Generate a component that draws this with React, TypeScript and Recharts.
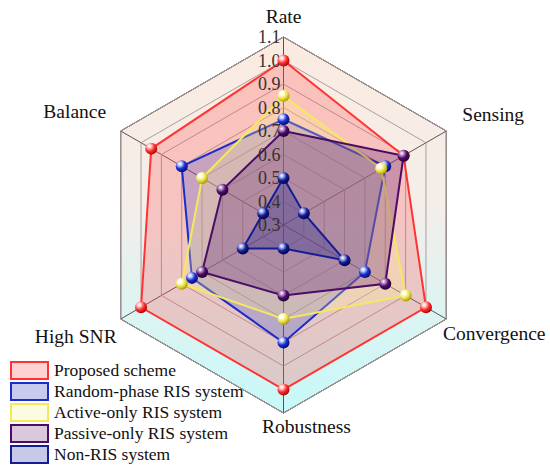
import React from "react";
import {
  RadarChart,
  Radar,
  PolarGrid,
  PolarAngleAxis,
  PolarRadiusAxis,
} from "recharts";

const metrics = ["Rate", "Sensing", "Convergence", "Robustness", "High SNR", "Balance"];
const proposed = [1.0, 0.89, 1.0, 1.0, 1.0, 0.95];
const randomPhase = [0.75, 0.8, 0.7, 0.8, 0.75, 0.8];
const activeOnly = [0.85, 0.78, 0.9, 0.7, 0.8, 0.7];
const passiveOnly = [0.7, 0.89, 0.8, 0.6, 0.7, 0.6];
const nonRis = [0.5, 0.4, 0.6, 0.4, 0.5, 0.4];
const radiusTicks = [0.3, 0.4, 0.5, 0.6, 0.7, 0.8, 0.9, 1.0, 1.1];

const CX = 283.5;
const CY = 225;
const OUTER_R = 188;
const FONT = "'Liberation Serif', 'Times New Roman', serif";

const series = [
  { key: "proposed", name: "Proposed scheme", values: proposed, stroke: "#ff3333", fill: "#ff5050", opacity: 0.27, box: "#fcd2d2", ball: ["#ffd0d0", "#ff3030", "#a00000"] },
  { key: "random", name: "Random-phase RIS system", values: randomPhase, stroke: "#1c2cc8", fill: "#3040c8", opacity: 0.24, box: "#c8cbee", ball: ["#c8d0ff", "#1a30d0", "#000870"] },
  { key: "active", name: "Active-only RIS system", values: activeOnly, stroke: "#f4e860", fill: "#fff890", opacity: 0.25, box: "#fdfce0", ball: ["#fffff0", "#f0e450", "#a09000"] },
  { key: "passive", name: "Passive-only RIS system", values: passiveOnly, stroke: "#4a0c66", fill: "#581870", opacity: 0.28, box: "#dcc8dc", ball: ["#c8a0d8", "#4a0c66", "#200030"] },
  { key: "nonris", name: "Non-RIS system", values: nonRis, stroke: "#141c96", fill: "#1a2290", opacity: 0.3, box: "#c8c9e6", ball: ["#b0b8f0", "#141c96", "#000040"] },
];

const data = metrics.map((m, i) => {
  const row: Record<string, string | number> = { metric: m };
  series.forEach((s) => {
    row[s.key] = s.values[i];
  });
  return row;
});

// label nudges so the category names sit where the original puts them
const labelOffset: Record<string, [number, number]> = {
  Rate: [0, -6],
  Sensing: [40, -6],
  Convergence: [41, 17],
  Robustness: [23, 12],
  "High SNR": [-38, 20],
  Balance: [-39, -9],
};

const AngleTick = (props: any) => {
  const { x, y, payload } = props;
  const [dx, dy] = labelOffset[payload.value] || [0, 0];
  return (
    <text x={x + dx} y={y + dy} textAnchor="middle" fontFamily={FONT} fontSize={19.5} fill="#111">
      {payload.value}
    </text>
  );
};

const RadiusTick = (props: any) => {
  const { x, y, payload } = props;
  return (
    <text x={x - 3} y={y} textAnchor="end" dominantBaseline="central" fontFamily={FONT} fontSize={18} fill="#3a3030">
      {Number(payload.value).toFixed(1)}
    </text>
  );
};

const makeBall = (key: string) => (props: any) => {
  const { cx, cy } = props;
  if (cx == null || cy == null) return <g />;
  return <circle cx={cx} cy={cy} r={6} fill={`url(#ball-${key})`} />;
};

const LegendBox = () => (
  <div
    style={{
      position: "absolute",
      left: 10,
      top: 360,
      fontFamily: FONT,
      fontSize: 17.5,
      color: "#111",
      lineHeight: "21px",
    }}
  >
    {series.map((s) => (
      <div key={s.key} style={{ display: "flex", alignItems: "center", height: 21 }}>
        <span
          style={{
            display: "inline-block",
            width: 35,
            height: 15,
            border: `2px solid ${s.stroke}`,
            background: s.box,
            marginRight: 5,
          }}
        />
        <span style={{ whiteSpace: "nowrap" }}>{s.name}</span>
      </div>
    ))}
  </div>
);

export default function App() {
  return (
    <div style={{ position: "absolute", left: 0, top: 0, width: 550, height: 474, background: "#fff" }}>
      <RadarChart
        width={550}
        height={474}
        data={data}
        cx={CX}
        cy={CY}
        outerRadius={OUTER_R}
        margin={{ top: 0, right: 0, bottom: 0, left: 0 }}
      >
        <defs>
          <linearGradient
            id="bgGrad"
            gradientUnits="userSpaceOnUse"
            x1={CX}
            y1={CY - OUTER_R}
            x2={CX}
            y2={CY + OUTER_R}
          >
            <stop offset="0%" stopColor="#fbebe0" />
            <stop offset="45%" stopColor="#f4eeea" />
            <stop offset="100%" stopColor="#c6f9f9" />
          </linearGradient>
          {series.map((s) => (
            <radialGradient key={s.key} id={`ball-${s.key}`} cx="35%" cy="30%" r="75%">
              <stop offset="0%" stopColor="#ffffff" />
              <stop offset="20%" stopColor={s.ball[0]} />
              <stop offset="55%" stopColor={s.ball[1]} />
              <stop offset="100%" stopColor={s.ball[2]} />
            </radialGradient>
          ))}
        </defs>
        <PolarGrid
          gridType="polygon"
          stroke="#5a5050"
          strokeWidth={1}
          fill="url(#bgGrad)"
          fillOpacity={1}
          polarRadius={[OUTER_R]}
        />
        <PolarGrid gridType="polygon" stroke="#aa9e9e" strokeWidth={1} radialLines={false} />
        <PolarAngleAxis dataKey="metric" tick={AngleTick} tickLine={false} axisLine={false} />
        <PolarRadiusAxis
          angle={90}
          type="number"
          scale="linear"
          domain={[radiusTicks[0], radiusTicks[radiusTicks.length - 1]]}
          allowDataOverflow
          allowDecimals
          ticks={radiusTicks as any}
          tickCount={radiusTicks.length}
          axisLine={false}
          tickLine={false}
          tick={RadiusTick}
        />
        {series.map((s) => (
          <Radar
            key={s.key}
            name={s.name}
            dataKey={s.key}
            stroke={s.stroke}
            strokeWidth={2}
            fill={s.fill}
            fillOpacity={s.opacity}
            dot={makeBall(s.key)}
            isAnimationActive={false}
          />
        ))}
      </RadarChart>
      <LegendBox />
    </div>
  );
}
